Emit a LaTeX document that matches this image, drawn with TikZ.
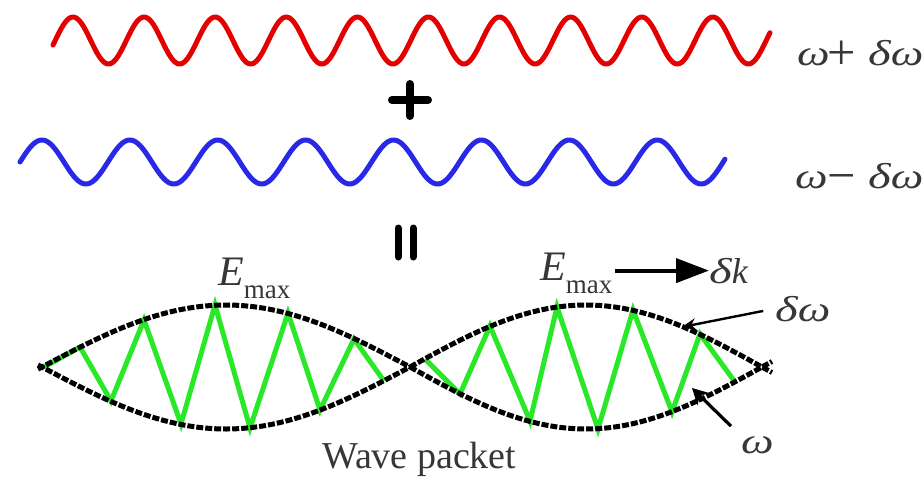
\documentclass[tikz,border=0pt]{standalone}
\usepackage{graphicx}
\usepackage{fontspec}
\setmainfont{Liberation Serif}
\newfontfamily\tnr{Liberation Serif}
\usetikzlibrary{arrows.meta}
\definecolor{wred}{RGB}{228,0,0}
\definecolor{wblue}{RGB}{40,40,230}
\definecolor{wgreen}{RGB}{40,232,40}
\definecolor{txt}{RGB}{55,55,55}
\tikzset{
  wave/.style={line width=5pt, line cap=round, line join=round},
  envelope/.style={line width=5pt, black, dash pattern=on 7pt off 2pt},
  zig/.style={line width=5pt, wgreen, line join=miter},
  lbl/.style={inner sep=0pt, text=txt, font=\tnr\fontsize{36}{36}\selectfont},
  emaxlbl/.style={inner sep=0pt, text=txt, font=\tnr\fontsize{42}{42}\selectfont},
  sign/.style={line width=8pt, line cap=round, black},
  bigarrow/.style={line width=4pt, -{Triangle[length=33pt,width=24pt]}},
  thinarrow/.style={line width=2.4pt, -{Stealth[length=14pt,width=12pt]}},
  midarrow/.style={line width=3.2pt, -{Stealth[length=16pt,width=17pt]}}
}
\newcommand{\gw}{\scalebox{1.28}[1]{\itshape ω}}
\newcommand{\gd}{\scalebox{1.35}[1]{\itshape δ}}
\newcommand{\op}[1]{\raisebox{-4pt}{\scalebox{1.4}{#1}}}
\newcommand{\emx}{{\itshape E}\raisebox{-13pt}{\fontsize{27}{27}\selectfont max}}
\begin{document}
\begin{tikzpicture}[x=1pt,y=-1pt]
\path[use as bounding box, fill=white] (0,0) rectangle (924,480);

% red and blue waves
\draw[wave, wred] plot[domain=53:770, samples=400, smooth] (\x, {40.5-23.5*sin((360/71.1)*(\x-55.2))});
\draw[wave, wblue] plot[domain=20:725, samples=400, smooth] (\x, {162-22*sin((360/87.9)*(\x-20))});

% plus and equal signs
\draw[sign] (392,100) -- (428,100);
\draw[sign] (410,84) -- (410,116);
\draw[line width=7pt, line cap=round] (398,228) -- (398,257);
\draw[line width=7pt, line cap=round] (413,228) -- (413,257);

% labels of the two waves
\node[lbl, anchor=base west] (lp) at (797,65) {\makebox[30pt][l]{\gw}\makebox[41pt][l]{\op{+}}\gd\gw};
\node[lbl, anchor=base west] (lm) at (795,188) {\makebox[32pt][l]{\gw}\makebox[41pt][l]{\op{−}}\gd\gw};

% carrier (green) inside the envelope
\draw[zig] (44,367) -- (80,347) -- (111,401) -- (144,320) -- (181,424) -- (215,305) -- (250,428) -- (288,313) -- (320,410) -- (354,339) -- (384,381);
\draw[zig] (425,359) -- (460,394) -- (490,326) -- (530,421) -- (557,307) -- (598,429) -- (633,310) -- (672,412) -- (700,334) -- (735,382);

% envelopes
\draw[envelope] plot[domain=38:410, samples=80] (\x, {367-62*sin((180/368)*(\x-42))});
\draw[envelope] plot[domain=38:410, samples=80] (\x, {367+62*sin((180/368)*(\x-42))});
\draw[envelope] plot[domain=410:772, samples=80] (\x, {367-62*sin((180/352)*(\x-410))});
\draw[envelope] plot[domain=410:772, samples=80] (\x, {367+62*sin((180/352)*(\x-410))});

% E_max labels
\node[emaxlbl, anchor=base west] (E1) at (218,285) {\emx};
\node[emaxlbl, anchor=base west] (E2) at (540,280) {\emx};
\node[lbl, anchor=base west] (dk) at (709,283) {\gd\itshape k};
\coordinate (ea) at ([xshift=2pt]E2.east |- dk.west);
\draw[bigarrow] (ea) -- (dk.west);

% delta omega and omega labels with arrows
\node[lbl, anchor=base west] (dw) at (775,321) {\gd\gw};
\coordinate (tipdw) at (682,327);
\draw[thinarrow, shorten <=12pt] (dw.west) -- (tipdw);

\node[lbl, anchor=base west] (w) at (741,453) {\gw};
\coordinate (tipw) at (692,388);
\draw[midarrow, shorten <=14pt] (w.north west) -- (tipw);

% caption
\node[inner sep=0pt, text=txt, font=\tnr\fontsize{38}{38}\selectfont, anchor=base west] (cap) at (322,468) {Wave packet};
\end{tikzpicture}
\end{document}
